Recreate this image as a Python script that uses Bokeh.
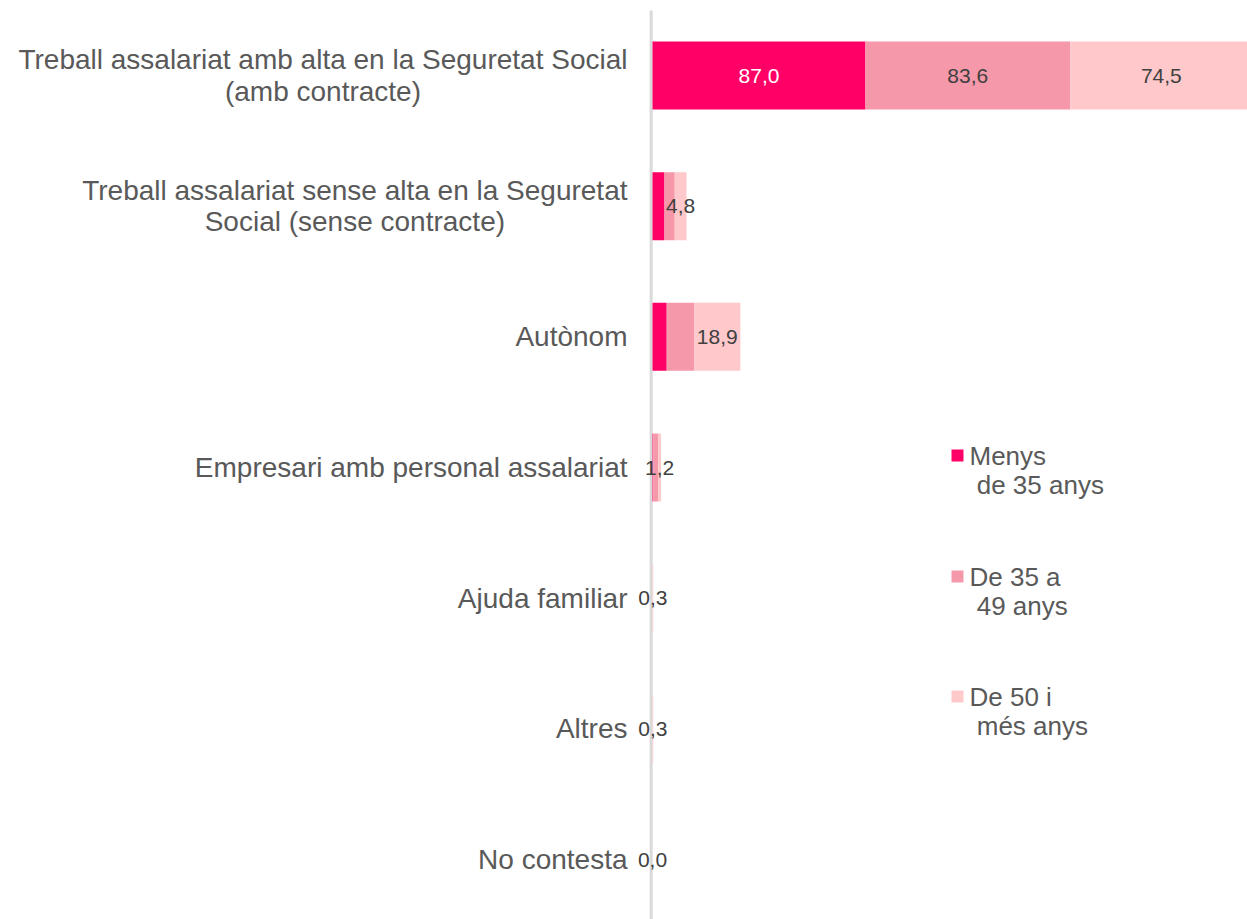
from bokeh.plotting import figure
from bokeh.models import ColumnDataSource, Range1d
from bokeh.core.properties import value
from bokeh.embed import file_html
from bokeh.resources import INLINE

# ---- data ----
categories = [
    "Treball assalariat amb alta en la Seguretat Social\n(amb contracte)",
    "Treball assalariat sense alta en la Seguretat\nSocial (sense contracte)",
    "Autònom",
    "Empresari amb personal assalariat",
    "Ajuda familiar",
    "Altres",
    "No contesta",
]
series_names = ["Menys\n\u00a0de 35 anys", "De 35 a\n\u00a049 anys", "De 50 i\n\u00a0més anys"]
menys_35 = [87.0, 4.9, 5.8, 0.3, 0.0, 0.0, 0.0]
de_35_49 = [83.6, 4.2, 11.2, 2.0, 0.0, 0.0, 0.0]
de_50_mes = [74.5, 4.8, 18.9, 1.2, 0.3, 0.3, 0.0]
colors = ["#FF0066", "#F598AA", "#FFC8CB"]

# ---- layout ----
W, H = 1247, 919
PX_PER_UNIT = 2.448
AXIS_PX = 652
X0 = (0 - AXIS_PX) / PX_PER_UNIT
X1 = (W - AXIS_PX) / PX_PER_UNIT
ROW_PX = 130.67
Y1 = 75 / ROW_PX
Y0 = Y1 - H / ROW_PX

def px_x(px):
    return X0 + px / W * (X1 - X0)

def px_y(py):
    return Y1 - py / H * (Y1 - Y0)

p = figure(width=W, height=H, output_backend="svg", toolbar_location=None,
           x_range=Range1d(X0, X1), y_range=Range1d(Y0, Y1),
           x_axis_type=None, y_axis_type=None, min_border=0)
p.outline_line_color = None
p.grid.visible = False
p.background_fill_color = "white"

ys = [-i for i in range(len(categories))]
series = [menys_35, de_35_49, de_50_mes]
keys = ["s0", "s1", "s2"]
data = dict(y=ys, cat=categories)
for k, s in zip(keys, series):
    data[k] = s
src = ColumnDataSource(data)

# axis line
p.segment(x0=[-0.55], x1=[-0.55], y0=[px_y(10)], y1=[Y0 - 1], line_color="#D9D9D9", line_width=3)

p.hbar_stack(keys, y="y", height=0.52, color=colors, line_color=None, source=src)

# value labels
lx, ly, lt, lc = [], [], [], []
for si, s in enumerate(series):
    for i, v in enumerate(s):
        left = sum(series[j][i] for j in range(si))
        if si < 2 and v < 20:
            continue
        lx.append(left + v / 2)
        ly.append(ys[i])
        lt.append(f"{v:.1f}".replace(".", ","))
        lc.append("white" if si == 0 else "#404040")
p.text(x=lx, y=ly, text=lt, text_color=lc, text_font=value("Liberation Sans"),
       text_font_size="21px", text_align="center", text_baseline="middle")

# category labels
p.text(x=[0] * len(categories), y=ys, text=categories, x_offset=-25,
       anchor="center_right", text_align="center", text_baseline="middle",
       text_font=value("Liberation Sans"), text_font_size="28px",
       text_color="#595959", text_line_height=1.02)

# legend
leg_y = [455, 576, 696]
p.scatter(x=[px_x(957)] * 3, y=[px_y(v) for v in leg_y], marker="square",
          size=12, color=colors, line_color=None)
p.text(x=[px_x(969)] * 3, y=[px_y(v) for v in leg_y], text=series_names,
       y_offset=15, text_align="left", text_baseline="middle",
       text_font=value("Liberation Sans"), text_font_size="26px",
       text_color="#595959", text_line_height=0.99)

open("out.html", "w").write(file_html(p, INLINE))
